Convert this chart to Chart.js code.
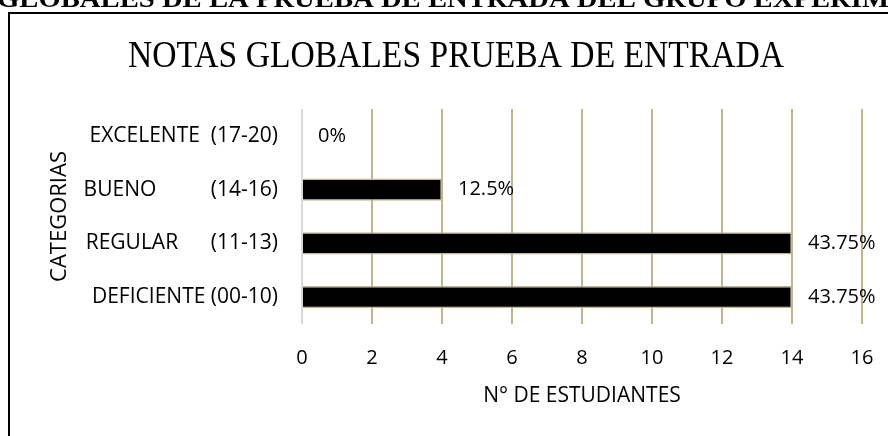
<!DOCTYPE html>
<html>
<head>
<meta charset="utf-8">
<script src="https://cdn.jsdelivr.net/npm/chart.js"></script>
<style>
  html, body { margin: 0; padding: 0; background: #fff; overflow: hidden; }
  #wrap { position: relative; width: 888px; height: 436px; }
</style>
</head>
<body>
<div id="wrap"><canvas id="notasChart"></canvas></div>

<script>
  const headerText = "GLOBALES DE LA PRUEBA DE ENTRADA DEL GRUPO EXPERIMENTAL";
  const chartTitle = "NOTAS GLOBALES PRUEBA DE ENTRADA";

  // categories top to bottom, spaces keep the Excel-style alignment
  const categories = [
    "EXCELENTE  (17-20)",
    "BUENO          (14-16)",
    "REGULAR      (11-13)",
    "DEFICIENTE (00-10)",
  ];
  const students = [0, 4, 14, 14];
  const percents = ["0%", "12.5%", "43.75%", "43.75%"];
  const xMin = 0;
  const xMax = 16;
  const xStep = 2;

  const tan = "#bfb68e";
  const sans = "'Open Sans', sans-serif";

  // header line, main title, frame and the percent labels
  const decorations = {
    id: "decorations",
    afterDatasetsDraw(chart) {
      const ctx = chart.ctx;
      const meta = chart.getDatasetMeta(0);
      ctx.save();
      ctx.fillStyle = "#000";
      ctx.font = "20px " + sans;
      ctx.textAlign = "left";
      ctx.textBaseline = "middle";
      meta.data.forEach((bar, i) => {
        ctx.fillText(percents[i], bar.x + 16, bar.y);
      });
      ctx.restore();
    },
    afterDraw(chart) {
      const ctx = chart.ctx;
      ctx.save();
      ctx.fillStyle = "#000";
      ctx.textAlign = "left";
      ctx.textBaseline = "alphabetic";

      // cut-off document heading
      ctx.font = "bold 26px 'Liberation Serif', serif";
      let w = ctx.measureText("GLOBALES DE LA PRUEBA DE ENTRADA DEL GRUPO EXPERIM").width;
      ctx.save();
      ctx.translate(-3, 7);
      ctx.scale(892 / w, 1);
      ctx.fillText(headerText, 0, 0);
      ctx.restore();

      // chart title (condensed)
      ctx.font = "38px 'Liberation Serif', serif";
      w = ctx.measureText(chartTitle).width;
      ctx.save();
      ctx.translate(128, 67);
      ctx.scale(656 / w, 1);
      ctx.fillText(chartTitle, 0, 0);
      ctx.restore();

      // frame
      ctx.strokeStyle = "#000";
      ctx.lineWidth = 2;
      ctx.strokeRect(9, 13, 1000, 1000);
      ctx.restore();
    },
  };

  new Chart(document.getElementById("notasChart"), {
    type: "bar",
    data: {
      labels: categories,
      datasets: [
        {
          data: students,
          backgroundColor: "#000",
          borderColor: tan,
          borderWidth: 1.5,
          borderSkipped: "start",
          categoryPercentage: 1,
          barPercentage: 0.41,
        },
      ],
    },
    options: {
      indexAxis: "y",
      responsive: true,
      maintainAspectRatio: false,
      animation: false,
      layout: { padding: { top: 109, right: 26, bottom: 0, left: 0 } },
      plugins: {
        legend: { display: false },
        title: { display: false },
        tooltip: { enabled: false },
      },
      scales: {
        x: {
          min: xMin,
          max: xMax,
          ticks: {
            stepSize: xStep,
            padding: 0,
            color: "#000",
            font: { family: sans, size: 20 },
          },
          grid: {
            drawTicks: true,
            tickLength: 22,
            tickColor: "transparent",
            color: (c) => (c.tick && c.tick.value === 0 ? "#d9d9d9" : tan),
            lineWidth: 2,
          },
          border: { display: false },
          title: {
            display: true,
            text: "N° DE ESTUDIANTES",
            color: "#000",
            font: { family: sans, size: 21 },
            padding: { top: 0, bottom: 27 },
          },
          afterFit: (scale) => {
            scale.height = 112;
          },
        },
        y: {
          ticks: {
            padding: 16,
            color: "#000",
            font: { family: sans, size: 21 },
          },
          grid: { display: false },
          border: { display: false },
          title: {
            display: true,
            text: "CATEGORIAS",
            color: "#000",
            font: { family: sans, size: 22 },
            padding: { top: 47, bottom: 0 },
          },
          afterFit: (scale) => {
            scale.width = 302;
          },
        },
      },
    },
    plugins: [decorations],
  });
</script>
</body>
</html>
